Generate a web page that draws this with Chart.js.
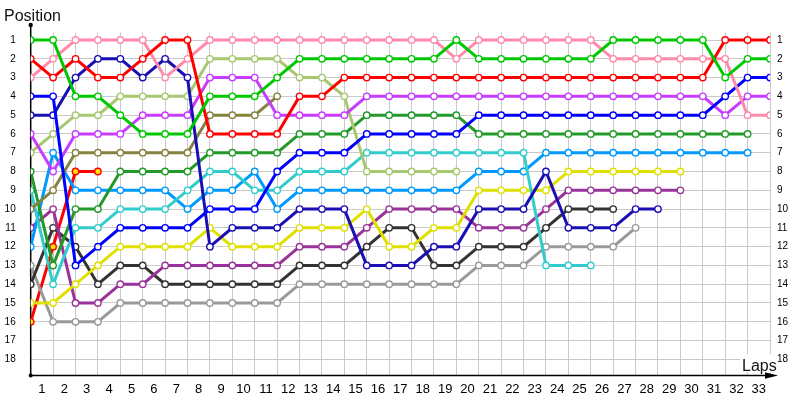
<!DOCTYPE html>
<html>
<head>
<meta charset="utf-8">
<script src="https://cdn.jsdelivr.net/npm/chart.js@4.4.1/dist/chart.umd.min.js"></script>
<style>
  html, body { margin: 0; padding: 0; background: #fff; }
  #wrap { width: 800px; height: 400px; }
</style>
</head>
<body>
<div id="wrap"><canvas id="c" width="800" height="400"></canvas></div>
<script>
// ---- data ----
const laps = [0,1,2,3,4,5,6,7,8,9,10,11,12,13,14,15,16,17,18,19,20,21,22,23,24,25,26,27,28,29,30,31,32,33];
const xTickLabels = ['1','2','3','4','5','6','7','8','9','10','11','12','13','14','15','16','17','18','19','20','21','22','23','24','25','26','27','28','29','30','31','32','33'];
const positionTicks = [1,2,3,4,5,6,7,8,9,10,11,12,13,14,15,16,17,18];

const green     = [1,1,4,4,5,6,6,6,4,4,4,3,2,2,2,2,2,2,2,1,2,2,2,2,2,2,1,1,1,1,1,3,2,2];
const red       = [2,3,2,3,3,2,1,1,6,6,6,6,4,4,3,3,3,3,3,3,3,3,3,3,3,3,3,3,3,3,3,1,1,1];
const pink      = [3,2,1,1,1,1,3,2,1,1,1,1,1,1,1,1,1,1,1,2,1,1,1,1,1,1,2,2,2,2,2,2,5,5];
const blue      = [4,4,13,12,11,11,11,11,10,10,10,8,7,7,7,6,6,6,6,6,5,5,5,5,5,5,5,5,5,5,5,4,3,3];
const navy      = [5,5,3,2,2,3,2,3,12,11,11,11,10,10,10,13,13,13,12,12,10,10,10,8,11,11,11,10,10];
const violet    = [6,8,6,6,6,5,5,5,3,3,3,5,5,5,5,4,4,4,4,4,4,4,4,4,4,4,4,4,4,4,4,5,4,4];
const lightOlive= [7,6,5,5,4,4,4,4,2,2,2,2,3,3,4,8,8,8,8,8];
const olive     = [10,9,7,7,7,7,7,7,5,5,5,4];
const darkGreen = [8,13,10,10,8,8,8,8,7,7,7,7,6,6,6,5,5,5,5,5,6,6,6,6,6,6,6,6,6,6,6,6,6];
const cyan      = [9,14,11,11,10,10,10,9,8,8,9,9,8,8,8,7,7,7,7,7,7,7,7,13,13,13];
const skyBlue   = [12,7,9,9,9,9,9,10,9,9,8,10,9,9,9,9,9,9,9,9,8,8,8,7,7,7,7,7,7,7,7,7,7];
const yellow    = [15,15,14,13,12,12,12,12,11,12,12,12,11,11,11,10,12,12,11,11,9,9,9,9,8,8,8,8,8,8];
const purple    = [11,10,15,15,14,14,13,13,13,13,13,13,12,12,12,11,10,10,10,10,11,11,11,10,9,9,9,9,9,9];
const darkGray  = [14,11,12,14,13,13,14,14,14,14,14,14,13,13,13,12,11,11,13,13,12,12,12,11,10,10,10];
const gray      = [13,16,16,16,15,15,15,15,15,15,15,15,14,14,14,14,14,14,14,14,13,13,13,12,12,12,12,11];
const retired   = [16,12,8,8];

// ---- styling ----
const series = [
  { data: green,      color: '#00c800' },
  { data: red,        color: '#ff0000' },
  { data: pink,       color: '#ff8aaa' },
  { data: blue,       color: '#0000ff' },
  { data: navy,       color: '#1a0fb4' },
  { data: violet,     color: '#c83cff' },
  { data: lightOlive, color: '#a8c870' },
  { data: olive,      color: '#868240' },
  { data: darkGreen,  color: '#229a2a' },
  { data: cyan,       color: '#33cccc' },
  { data: skyBlue,    color: '#0099ff' },
  { data: yellow,     color: '#e0e000' },
  { data: purple,     color: '#993399' },
  { data: darkGray,   color: '#333333' },
  { data: gray,       color: '#9a9a9a' },
  { data: retired,    color: '#ff0000', fill: '#ffe600' }
];

const datasets = series.map(s => ({
  data: s.data.map((p, i) => ({ x: laps[i], y: p })),
  borderColor: s.color,
  backgroundColor: s.color,
  borderWidth: 3,
  tension: 0,
  pointRadius: 3.2,
  pointBorderWidth: 1.4,
  pointBorderColor: s.color,
  pointBackgroundColor: s.fill || '#ffffff',
  fill: false
}));

const FONT = '"Liberation Sans", Arial, sans-serif';

const decor = {
  id: 'decor',
  beforeDatasetsDraw(chart) {
    const { ctx, chartArea: a } = chart;
    ctx.save();
    ctx.strokeStyle = '#000';
    ctx.fillStyle = '#000';
    ctx.lineWidth = 1.5;
    ctx.beginPath();
    ctx.moveTo(a.left, 25);
    ctx.lineTo(a.left, a.bottom);
    ctx.lineTo(768, a.bottom);
    ctx.stroke();
    ctx.beginPath();
    ctx.moveTo(778, a.bottom);
    ctx.lineTo(765, a.bottom - 3.2);
    ctx.lineTo(765, a.bottom + 3.2);
    ctx.closePath();
    ctx.fill();
    ctx.beginPath(); ctx.arc(a.left, 25, 2.2, 0, Math.PI * 2); ctx.fill();
    ctx.beginPath(); ctx.arc(a.left, a.bottom, 2, 0, Math.PI * 2); ctx.fill();
    // white box behind "Laps"
    ctx.fillStyle = '#fff';
    ctx.fillRect(740, 354, 37, 18);
    ctx.restore();
  },
  afterDraw(chart) {
    const { ctx } = chart;
    ctx.save();
    ctx.fillStyle = '#111';
    ctx.font = '16px ' + FONT;
    ctx.textBaseline = 'alphabetic';
    ctx.textAlign = 'left';
    ctx.fillText('Position', 4, 21);
    ctx.fillText('Laps', 742, 370.5);
    ctx.restore();
  }
};

new Chart(document.getElementById('c'), {
  type: 'line',
  data: { datasets },
  plugins: [decor],
  options: {
    responsive: false,
    devicePixelRatio: 1,
    animation: false,
    events: [],
    layout: { padding: { top: 32.5, left: 0, right: 0, bottom: 0 } },
    plugins: { legend: { display: false }, tooltip: { enabled: false } },
    scales: {
      x: {
        type: 'linear', min: 0, max: 33,
        position: 'bottom',
        border: { display: false },
        grid: { color: '#cacaca', lineWidth: 1, drawTicks: false },
        afterBuildTicks: (s) => { s.ticks = laps.map(v => ({ value: v })); },
        afterFit: (s) => { s.height = 24.5; },
        ticks: {
          autoSkip: false, maxRotation: 0, padding: 6,
          labelOffset: 11.2,
          color: '#000',
          font: { family: FONT, size: 13 },
          callback: (v) => (v < xTickLabels.length ? xTickLabels[v] : '')
        }
      },
      y: {
        type: 'linear', min: 0.6, max: 18.86, reverse: true,
        position: 'left',
        border: { display: false },
        grid: { color: '#cacaca', lineWidth: 1, drawTicks: false },
        afterBuildTicks: (s) => { s.ticks = positionTicks.map(v => ({ value: v })); },
        afterFit: (s) => { s.width = 30.7; },
        ticks: {
          autoSkip: false, padding: 15,
          color: '#000',
          font: { family: FONT, size: 10 },
          callback: (v) => String(v)
        }
      },
      y2: {
        type: 'linear', min: 0.6, max: 18.86, reverse: true,
        position: 'right',
        border: { display: false },
        grid: { display: false, drawTicks: false },
        afterBuildTicks: (s) => { s.ticks = positionTicks.map(v => ({ value: v })); },
        afterFit: (s) => { s.width = 30; },
        ticks: {
          autoSkip: false, padding: 7,
          color: '#000',
          font: { family: FONT, size: 10 },
          callback: (v) => String(v)
        }
      }
    }
  }
});
</script>
</body>
</html>
